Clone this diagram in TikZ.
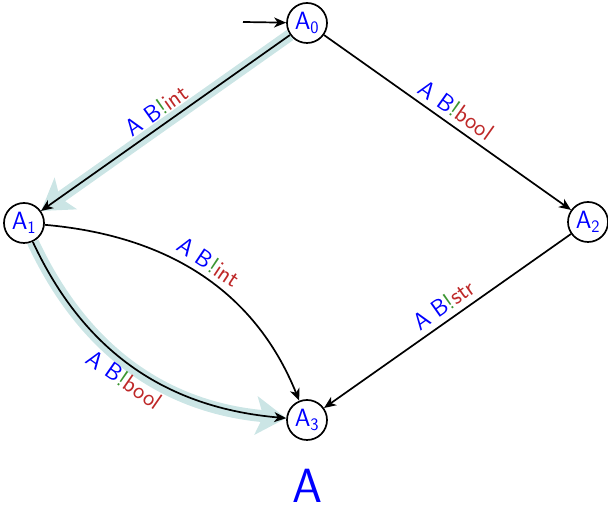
\documentclass[tikz,border=0pt]{standalone}
\usepackage{fontspec}
\usetikzlibrary{arrows.meta}
\definecolor{hl}{RGB}{203,229,229}
\definecolor{labblue}{RGB}{0,0,255}
\definecolor{labgreen}{RGB}{60,150,50}
\definecolor{labred}{RGB}{190,40,40}
\newcommand{\lbl}[1]{{\color{labblue}A B}{\color{labgreen}!}{\color{labred}#1}}
\begin{document}
\begin{tikzpicture}[x=1pt,y=1pt,
 state/.style={circle,draw,line width=1.7pt,minimum size=40pt,inner sep=0pt,text=labblue,font=\sffamily\fontsize{25}{28}\selectfont},
 edge/.style={line width=1.7pt,-{Stealth[length=12pt,width=10pt,inset=3.5pt]}},
 hlpath/.style={line width=12pt,draw=hl,-{Stealth[length=30pt,width=38pt,inset=7pt]}},
 lab/.style={sloped,font=\sffamily\fontsize{24}{28}\selectfont,inner sep=6pt}]
\useasboundingbox (0,0) rectangle (608,510);
\node[state] (A0) at (307,487) {A\textsubscript{0}};
\node[state] (A1) at (24,287) {A\textsubscript{1}};
\node[state] (A2) at (588,288) {A\textsubscript{2}};
\node[state] (A3) at (307,90) {A\textsubscript{3}};
\node[text=labblue,font=\sffamily\fontsize{48}{56}\selectfont,inner sep=0pt] (title) at (307,24) {A};
\coordinate (init) at (243,488);
% highlights
\draw[hlpath] (A0) -- (A1);
\draw[hlpath] (A1) to[out=-65,in=175] (A3);
% edges
\draw[edge] (init) -- (A0);
\draw[edge] (A0) -- node[lab,above] {\lbl{int}} (A1);
\draw[edge] (A0) -- node[lab,above] {\lbl{bool}} (A2);
\draw[edge] (A2) -- node[lab,above,pos=.48] {\lbl{str}} (A3);
\draw[edge] (A1) to[out=-5,in=112] node[lab,above] {\lbl{int}} (A3);
\draw[edge] (A1) to[out=-65,in=175] node[lab,below] {\lbl{bool}} (A3);
\end{tikzpicture}
\end{document}
